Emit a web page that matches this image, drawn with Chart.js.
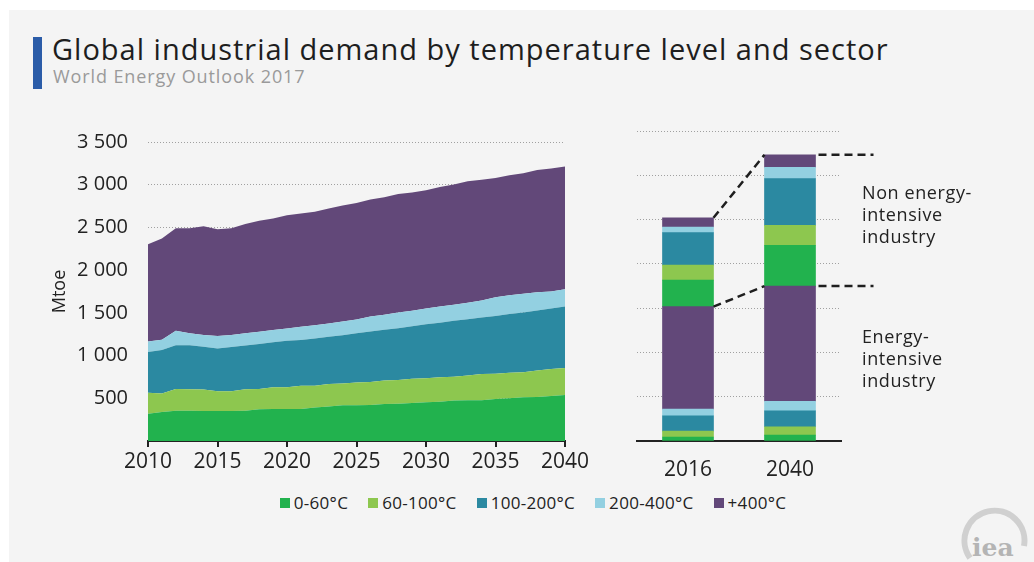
<!DOCTYPE html>
<html>
<head>
    <title>Global industrial demand by temperature level and sector</title>
    <script src="https://cdn.jsdelivr.net/npm/chart.js@4.4.1/dist/chart.umd.min.js"></script>
    <style>
        body {
            margin: 0;
            width: 1034px;
            height: 562px;
            background: #ffffff;
            font-family: "Open Sans", Arial, sans-serif;
            overflow: hidden;
        }

        #panel {
            position: absolute;
            left: 9px;
            top: 10px;
            width: 1025px;
            height: 552px;
            background: #f4f4f4;
        }

        #accent {
            position: absolute;
            left: 33px;
            top: 37px;
            width: 9px;
            height: 52px;
            background: #2b5ca8;
        }

        #title {
            position: absolute;
            left: 52px;
            top: 29px;
            font-size: 29px;
            letter-spacing: 1px;
            color: #1e1e1e;
            white-space: nowrap;
        }

        #subtitle {
            position: absolute;
            left: 53px;
            top: 64px;
            font-size: 18px;
            letter-spacing: 0.9px;
            color: #9a9a9a;
            white-space: nowrap;
        }

        #areaWrap {
            position: absolute;
            left: 40px;
            top: 110px;
            width: 560px;
            height: 380px;
        }

        #barWrap {
            position: absolute;
            left: 600px;
            top: 110px;
            width: 300px;
            height: 380px;
        }

        .note {
            position: absolute;
            left: 862px;
            font-size: 18px;
            letter-spacing: 0.6px;
            line-height: 22px;
            color: #222;
        }

        #legend {
            position: absolute;
            left: 0;
            width: 1066px;
            top: 491px;
            display: flex;
            justify-content: center;
            gap: 20px;
            font-size: 17px;
            letter-spacing: 0.3px;
            color: #222;
        }

        #legend span.item {
            display: flex;
            align-items: center;
            white-space: nowrap;
        }

        #legend span.box {
            display: inline-block;
            width: 10px;
            height: 10px;
            margin-right: 4px;
        }

        #logo {
            position: absolute;
            left: 950px;
            top: 500px;
        }
    </style>
</head>
<body>
    <div id="panel"></div>
    <div id="accent"></div>
    <div id="title">Global industrial demand by temperature level and sector</div>
    <div id="subtitle">World Energy Outlook 2017</div>

    <div id="areaWrap"><canvas id="areaChart" width="560" height="380"></canvas></div>
    <div id="barWrap"><canvas id="barChart" width="300" height="380"></canvas></div>

    <div class="note" style="top: 181px;">Non energy-<br>intensive<br>industry</div>
    <div class="note" style="top: 325px;">Energy-<br>intensive<br>industry</div>

    <div id="legend"></div>

    <svg id="logo" width="84" height="62">
        <path d="M 20 58 A 30 30 0 1 1 74 46" fill="none" stroke="#d0d0d0" stroke-width="6"/>
        <text x="22" y="56" font-family="DejaVu Serif, serif" font-weight="bold" font-size="25" fill="#b4b4b4">iea</text>
    </svg>

    <script>
        // series shared by both charts
        const seriesNames = ['0-60°C', '60-100°C', '100-200°C', '200-400°C', '+400°C'];
        const seriesColors = ['#22b24e', '#8dc74f', '#2b89a1', '#93d0e1', '#624879'];

        // left chart: Mtoe per year, 2010-2040
        const years = [2010, 2011, 2012, 2013, 2014, 2015, 2016, 2017, 2018, 2019,
                       2020, 2021, 2022, 2023, 2024, 2025, 2026, 2027, 2028, 2029,
                       2030, 2031, 2032, 2033, 2034, 2035, 2036, 2037, 2038, 2039, 2040];
        const heat0to60 = [320, 339, 354, 354, 350, 350, 350, 354, 373, 376,
                           376, 376, 391, 403, 418, 418, 421, 433, 437, 444,
                           455, 459, 474, 478, 478, 493, 500, 512, 516, 527, 538];
        const heat60to100 = [244, 218, 256, 252, 252, 233, 233, 252, 237, 252,
                             252, 271, 256, 263, 256, 267, 271, 274, 278, 286,
                             279, 286, 279, 290, 305, 293, 298, 293, 308, 316, 316];
        const heat100to200 = [478, 508, 511, 515, 501, 501, 516, 512, 526, 527,
                              546, 535, 553, 553, 564, 576, 591, 595, 606, 613,
                              632, 640, 654, 658, 662, 678, 688, 700, 704, 707, 719];
        const heat200to400 = [124, 120, 170, 140, 139, 146, 143, 143, 143, 143,
                              143, 154, 155, 155, 162, 161, 173, 177, 184, 181,
                              184, 188, 189, 192, 199, 218, 219, 218, 214, 200, 203];
        const heatOver400 = [1137, 1186, 1200, 1230, 1272, 1250, 1249, 1279, 1299, 1306,
                             1325, 1328, 1328, 1347, 1358, 1363, 1370, 1373, 1385, 1385,
                             1385, 1400, 1407, 1423, 1415, 1396, 1407, 1412, 1430, 1441, 1438];
        const yTickLabels = ['', '500', '1 000', '1 500', '2 000', '2 500', '3 000', '3 500'];

        // right chart: 2016 vs 2040, split by sector
        const barYears = ['2016', '2040'];
        const intensive = [
            [45, 67],      // 0-60
            [67, 94],      // 60-100
            [173, 180],    // 100-200
            [75, 108],     // 200-400
            [1157, 1300]   // +400
        ];
        const nonIntensive = [
            [299, 461],
            [169, 224],
            [367, 528],
            [64, 128],
            [104, 142]
        ];

        const fontFamily = '"Open Sans", Arial, sans-serif';
        const inkColor = '#222';

        // legend
        const legendEl = document.getElementById('legend');
        seriesNames.forEach((name, i) => {
            let item = document.createElement('span');
            item.className = 'item';
            item.innerHTML = '<span class="box" style="background:' + seriesColors[i] + '"></span>' + name;
            legendEl.appendChild(item);
        });

        const areaSeries = [heat0to60, heat60to100, heat100to200, heat200to400, heatOver400];

        const dottedGrid = {
            color: (ctx) => ctx.tick && ctx.tick.value === 0 ? 'rgba(0,0,0,0)' : '#a0a0a0',
            lineWidth: 1,
            drawTicks: false
        };

        new Chart(document.getElementById('areaChart'), {
            type: 'line',
            data: {
                labels: years,
                datasets: areaSeries.map((values, i) => ({
                    label: seriesNames[i],
                    data: values,
                    backgroundColor: seriesColors[i],
                    borderWidth: 0,
                    pointRadius: 0,
                    fill: i === 0 ? 'origin' : '-1'
                }))
            },
            options: {
                responsive: false,
                animation: false,
                layout: { padding: { top: 21, right: 35, left: 0, bottom: 0 } },
                plugins: { legend: { display: false }, tooltip: { enabled: false } },
                scales: {
                    x: {
                        type: 'linear',
                        min: 2010,
                        max: 2040,
                        afterFit: (scale) => { scale.height = 49; },
                        ticks: {
                            stepSize: 5,
                            padding: 2,
                            color: inkColor,
                            font: { family: fontFamily, size: 21 },
                            callback: (v) => String(v)
                        },
                        grid: {
                            drawOnChartArea: false,
                            color: inkColor,
                            tickLength: 6,
                            lineWidth: 2
                        },
                        border: { display: true, color: inkColor, width: 2 }
                    },
                    y: {
                        stacked: true,
                        min: 0,
                        max: 3500,
                        afterFit: (scale) => { scale.width = 108; },
                        ticks: {
                            stepSize: 500,
                            padding: 20,
                            color: inkColor,
                            font: { family: fontFamily, size: 20 },
                            callback: (v) => yTickLabels[v / 500]
                        },
                        grid: dottedGrid,
                        border: { display: false, dash: [1, 2] },
                        title: {
                            display: true,
                            text: 'Mtoe',
                            color: inkColor,
                            font: { family: fontFamily, size: 18 },
                            padding: { top: 9, bottom: 0 }
                        }
                    }
                }
            }
        });

        // dashed connectors between the two bars
        const connectorPlugin = {
            id: 'connectors',
            afterDatasetsDraw(chart) {
                const ctx = chart.ctx;
                const yScale = chart.scales.y;
                const first = chart.getDatasetMeta(0).data;
                const sumOf = (groups, i) => groups.reduce((s, g) => s + g[i], 0);
                const levels = [0, 1].map(i => {
                    let ei = sumOf(intensive, i);
                    return [ei, ei + sumOf(nonIntensive, i)];
                });
                ctx.save();
                ctx.strokeStyle = '#1e1e1e';
                ctx.lineWidth = 2.5;
                ctx.setLineDash([8, 5]);
                for (let k = 0; k < 2; k++) {
                    let b0 = first[0], b1 = first[1];
                    let y0 = yScale.getPixelForValue(levels[0][k]);
                    let y1 = yScale.getPixelForValue(levels[1][k]);
                    ctx.beginPath();
                    ctx.moveTo(b0.x + b0.width / 2, y0);
                    ctx.lineTo(b1.x - b1.width / 2, y1);
                    ctx.stroke();
                    ctx.beginPath();
                    ctx.moveTo(b1.x + b1.width / 2 + 3, y1);
                    ctx.lineTo(b1.x + b1.width / 2 + 58, y1);
                    ctx.stroke();
                }
                ctx.restore();
            }
        };

        const barSets = [];
        intensive.forEach((values, i) => barSets.push({
            label: 'Energy-intensive ' + seriesNames[i],
            data: values,
            backgroundColor: seriesColors[i]
        }));
        nonIntensive.forEach((values, i) => barSets.push({
            label: 'Non energy-intensive ' + seriesNames[i],
            data: values,
            backgroundColor: seriesColors[i]
        }));

        new Chart(document.getElementById('barChart'), {
            type: 'bar',
            data: {
                labels: barYears,
                datasets: barSets.map(d => Object.assign(d, { barThickness: 51, borderWidth: 0 }))
            },
            options: {
                responsive: false,
                animation: false,
                layout: { padding: { top: 21, right: 59, left: 0, bottom: 0 } },
                plugins: { legend: { display: false }, tooltip: { enabled: false } },
                scales: {
                    x: {
                        stacked: true,
                        afterFit: (scale) => { scale.height = 49; },
                        ticks: {
                            padding: 8,
                            color: inkColor,
                            font: { family: fontFamily, size: 21 }
                        },
                        grid: { display: false },
                        border: { display: true, color: inkColor, width: 2 }
                    },
                    y: {
                        stacked: true,
                        min: 0,
                        max: 3500,
                        afterFit: (scale) => { scale.width = 37; },
                        ticks: { stepSize: 500, display: false },
                        grid: dottedGrid,
                        border: { display: false, dash: [1, 2] }
                    }
                }
            },
            plugins: [connectorPlugin]
        });
    </script>
</body>
</html>
